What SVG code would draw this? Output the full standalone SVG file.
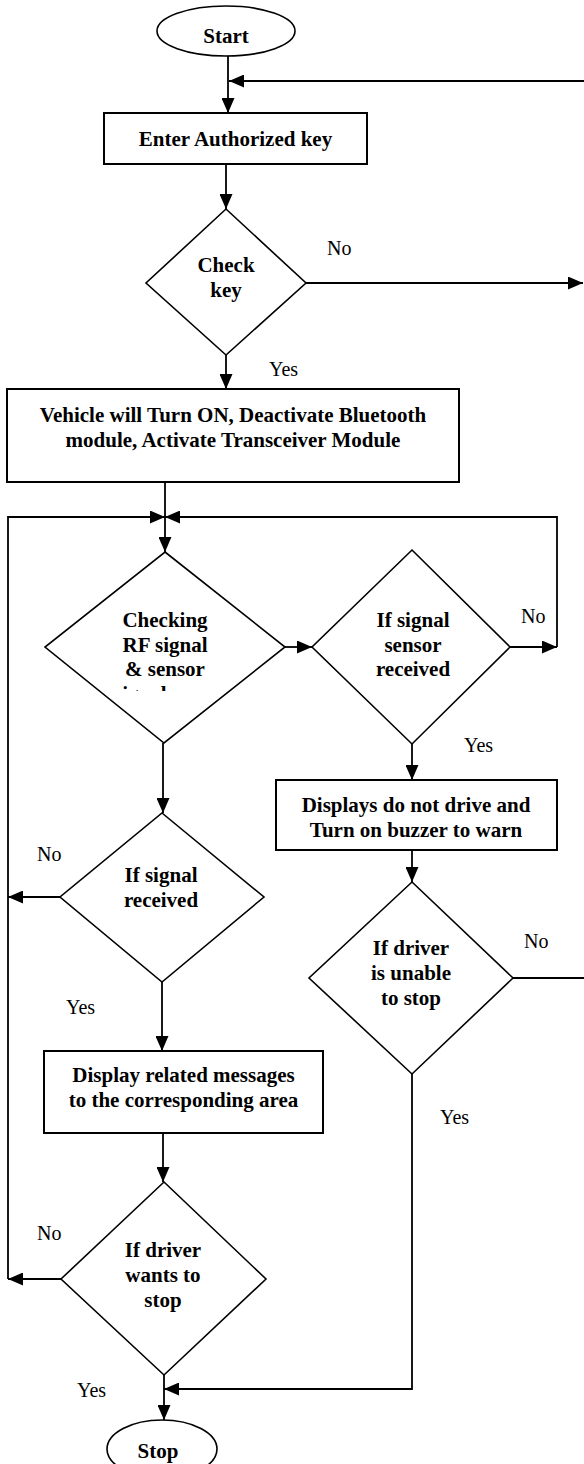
<svg xmlns="http://www.w3.org/2000/svg" width="584" height="1464" viewBox="0 0 584 1464">
<style>
.shape{fill:#fff;stroke:#000;stroke-width:1.6}
.box{fill:#fff;stroke:#000;stroke-width:2}
.t{font-family:"Liberation Serif","Times New Roman",serif;font-weight:bold;font-size:21px;fill:#000;text-anchor:middle}
.lbl{font-family:"Liberation Serif","Times New Roman",serif;font-size:20px;fill:#000}
.c{fill:none;stroke:#000;stroke-width:1.8}
</style>
<defs>
<marker id="ah" markerUnits="userSpaceOnUse" markerWidth="15" markerHeight="13" refX="15" refY="6.5" orient="auto">
<path d="M0,0 L15,6.5 L0,13 z" fill="#000"/>
</marker>
<clipPath id="clipRF"><rect x="60" y="600" width="210" height="91"/></clipPath>
</defs>

<g id="connectors">
<line class="c" x1="228" y1="56" x2="228" y2="113" marker-end="url(#ah)"/>
<line class="c" x1="584" y1="81" x2="229" y2="81" marker-end="url(#ah)"/>
<line class="c" x1="226" y1="164" x2="226" y2="209" marker-end="url(#ah)"/>
<line class="c" x1="306" y1="283" x2="583" y2="283" marker-end="url(#ah)"/>
<line class="c" x1="226" y1="355" x2="226" y2="389" marker-end="url(#ah)"/>
<line class="c" x1="165" y1="482" x2="165" y2="552" marker-end="url(#ah)"/>
<polyline class="c" points="8,1279 8,517 165,517" marker-end="url(#ah)"/>
<polyline class="c" points="557,647 557,517 165,517" marker-end="url(#ah)"/>
<line class="c" x1="285" y1="647" x2="312" y2="647" marker-end="url(#ah)"/>
<line class="c" x1="510" y1="647" x2="557" y2="647" marker-end="url(#ah)"/>
<line class="c" x1="412" y1="744" x2="412" y2="780" marker-end="url(#ah)"/>
<line class="c" x1="412" y1="850" x2="412" y2="882" marker-end="url(#ah)"/>
<line class="c" x1="513" y1="978" x2="584" y2="978"/>
<polyline class="c" points="412,1074 412,1389 164,1389" marker-end="url(#ah)"/>
<line class="c" x1="163" y1="743" x2="163" y2="813" marker-end="url(#ah)"/>
<line class="c" x1="60" y1="897" x2="8" y2="897" marker-end="url(#ah)"/>
<line class="c" x1="162" y1="982" x2="162" y2="1051" marker-end="url(#ah)"/>
<line class="c" x1="163" y1="1133" x2="163" y2="1182" marker-end="url(#ah)"/>
<line class="c" x1="61" y1="1279" x2="8" y2="1279" marker-end="url(#ah)"/>
<line class="c" x1="164" y1="1375" x2="164" y2="1420" marker-end="url(#ah)"/>
</g>

<g id="labels">
<text class="lbl" x="327" y="255">No</text>
<text class="lbl" x="269" y="376">Yes</text>
<text class="lbl" x="521" y="623">No</text>
<text class="lbl" x="464" y="752">Yes</text>
<text class="lbl" x="524" y="948">No</text>
<text class="lbl" x="440" y="1124">Yes</text>
<text class="lbl" x="37" y="861">No</text>
<text class="lbl" x="66" y="1014">Yes</text>
<text class="lbl" x="37" y="1240">No</text>
<text class="lbl" x="77" y="1397">Yes</text>
</g>

<g id="start">
<ellipse class="shape" cx="226" cy="31" rx="69" ry="25"/>
<text class="t" x="226" y="43">Start</text>
</g>

<g id="enter-key">
<rect class="box" x="104" y="113" width="263" height="51"/>
<text class="t" x="235.5" y="146">Enter Authorized key</text>
</g>

<g id="check-key">
<polygon class="shape" points="226,209 306,283 226,355 146,283"/>
<text class="t" x="226" y="272">Check</text>
<text class="t" x="226" y="297">key</text>
</g>

<g id="vehicle-on">
<rect class="box" x="7" y="389" width="452" height="93"/>
<text class="t" x="233" y="422">Vehicle will Turn ON, Deactivate Bluetooth</text>
<text class="t" x="233" y="447">module, Activate Transceiver Module</text>
</g>

<g id="checking-rf">
<polygon class="shape" points="165,552 285,647 164,743 45,647"/>
<g clip-path="url(#clipRF)">
<text class="t" x="165" y="627">Checking</text>
<text class="t" x="165" y="652">RF signal</text>
<text class="t" x="165" y="676">&amp; sensor</text>
<text class="t" x="114" y="701" style="text-anchor:start">signal</text>
</g>
</g>

<g id="signal-sensor">
<polygon class="shape" points="412,550 510,647 412,744 312,647"/>
<text class="t" x="413" y="627">If signal</text>
<text class="t" x="413" y="652">sensor</text>
<text class="t" x="413" y="676">received</text>
</g>

<g id="displays-warn">
<rect class="box" x="276" y="780" width="281" height="70"/>
<text class="t" x="416" y="812">Displays do not drive and</text>
<text class="t" x="416" y="837">Turn on buzzer to warn</text>
</g>

<g id="driver-unable">
<polygon class="shape" points="412,882 513,978 412,1074 309,978"/>
<text class="t" x="411" y="955">If driver</text>
<text class="t" x="411" y="980">is unable</text>
<text class="t" x="411" y="1005">to stop</text>
</g>

<g id="signal-received">
<polygon class="shape" points="162,813 264,897 162,982 60,897"/>
<text class="t" x="161" y="882">If signal</text>
<text class="t" x="161" y="907">received</text>
</g>

<g id="display-messages">
<rect class="box" x="44" y="1051" width="279" height="82"/>
<text class="t" x="183.5" y="1082">Display related messages</text>
<text class="t" x="183.5" y="1107">to the corresponding area</text>
</g>

<g id="driver-stop">
<polygon class="shape" points="164,1182 266,1279 164,1375 61,1279"/>
<text class="t" x="163" y="1257">If driver</text>
<text class="t" x="163" y="1282">wants to</text>
<text class="t" x="163" y="1307">stop</text>
</g>

<g id="stop">
<ellipse class="shape" cx="162" cy="1449" rx="55" ry="29"/>
<text class="t" x="158" y="1458">Stop</text>
</g>
</svg>
